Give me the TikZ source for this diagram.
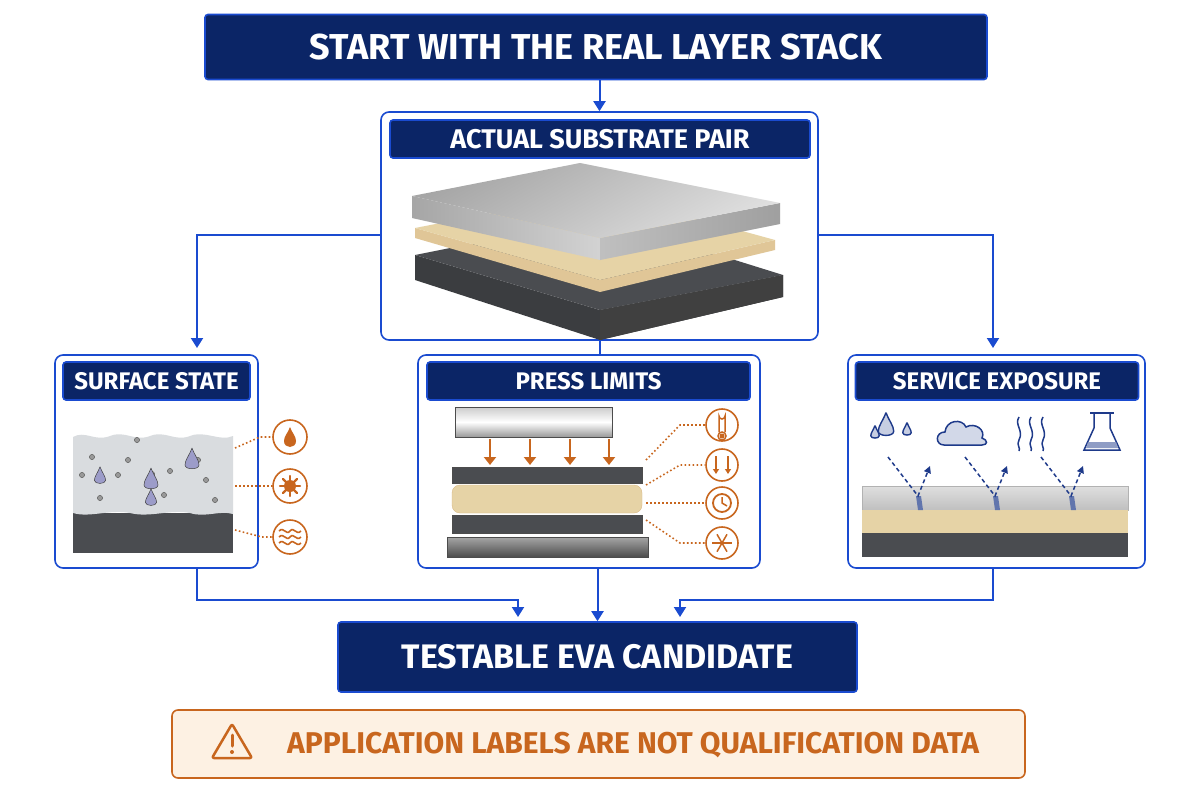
\documentclass[tikz,border=0pt]{standalone}
\usepackage{fontspec}
\setmainfont{Fira Sans}
\usetikzlibrary{arrows.meta}
\definecolor{navy}{HTML}{0B2566}
\definecolor{bblue}{HTML}{1A4BD0}
\definecolor{org}{HTML}{C8661E}
\definecolor{peach}{HTML}{FDF1E3}
\definecolor{tan}{HTML}{E6D3A6}
\definecolor{dgray}{HTML}{4A4C50}
\definecolor{lgray}{HTML}{D9DCDF}
\definecolor{icb}{HTML}{1E3A8A}
\tikzset{
 hdr/.style={fill=navy,draw=bblue,line width=1.6pt,rounded corners=3pt,text=white,font=\bfseries,inner sep=0},
 panel/.style={fill=white,draw=bblue,line width=1.6pt,rounded corners=8pt,inner sep=0},
 conn/.style={draw=bblue,line width=2pt},
 arr/.style={conn,-{Triangle[length=10pt,width=12pt]}},
 dots/.style={draw=org,line width=1.6pt,dash pattern=on 1.6pt off 2.4pt},
 ic/.style={draw=org,line width=1.6pt,fill=white},
 darr/.style={draw=icb,line width=1.5pt,dash pattern=on 4pt off 3pt,-{Triangle[length=7pt,width=7pt]}},
}
\begin{document}
\begin{tikzpicture}[x=1pt,y=-1pt]
\useasboundingbox (0,0) rectangle (1200,800);
% main boxes
\node[hdr,minimum width=782,minimum height=65,font=\bfseries\fontsize{36}{36}\selectfont] (title) at (596,47) {START WITH THE REAL LAYER STACK};
\node[panel,minimum width=437,minimum height=228] (actual) at (599.5,226) {};
\node[hdr,minimum width=420,minimum height=38,font=\bfseries\fontsize{27}{27}\selectfont] (ah) at (600,139) {ACTUAL SUBSTRATE PAIR};
\node[panel,minimum width=203,minimum height=213] (surf) at (156.5,461.5) {};
\node[hdr,minimum width=187,minimum height=38,font=\bfseries\fontsize{24}{24}\selectfont] (sh) at (156.5,381) {SURFACE STATE};
\node[panel,minimum width=342,minimum height=213] (press) at (589,461.5) {};
\node[hdr,minimum width=323,minimum height=38,font=\bfseries\fontsize{24}{24}\selectfont] (ph) at (588.5,381) {PRESS LIMITS};
\node[panel,minimum width=297,minimum height=213] (serv) at (996.5,461.5) {};
\node[hdr,minimum width=283,minimum height=38,font=\bfseries\fontsize{24}{24}\selectfont] (vh) at (997,381) {SERVICE EXPOSURE};
\node[hdr,minimum width=519,minimum height=70,font=\bfseries\fontsize{34}{34}\selectfont] (bot) at (597.5,657) {TESTABLE EVA CANDIDATE};
\node[fill=peach,draw=org,line width=1.6pt,rounded corners=6pt,minimum width=853,minimum height=68,inner sep=0] (warn) at (598.5,744) {};
\node[text=org,font=\bfseries\fontsize{30}{30}\selectfont,anchor=west,inner sep=0] (wt) at (287,745) {APPLICATION LABELS ARE NOT QUALIFICATION DATA};
% warning triangle
\draw[draw=org,line width=2.5pt,line join=round,rounded corners=2pt] (232,724)--(252,758)--(212,758)--cycle;
\draw[org,line width=3pt,line cap=round] (232,735)--(232,746);
\fill[org] (232,752) circle (2pt);
% connectors
\coordinate (sIn) at (197,348);
\coordinate (vIn) at (993,348);
\coordinate (lJ) at (518,617);
\coordinate (rJ) at (680,617);
\draw[arr] (title.south -| actual.north) -- (actual.north);
\draw[arr] (actual.west |- 0,235) -| (sIn);
\draw[arr] (actual.east |- 0,235) -| (vIn);
\draw[conn] (actual.south) -- (actual.south |- press.north);
\draw[arr] (surf.south -| 197,0) |- (518,600) -- (lJ);
\draw[arr] (press.south -| bot.north) -- (bot.north);
\draw[arr] (serv.south -| 993,0) |- (680,600) -- (rJ);
% ===== actual substrate stack
\fill[dgray!80!black] (415,255)--(600,310)--(783,275)--(783,297)--(600,340)--(415,280)--cycle;
\fill[dgray] (415,255)--(600,218)--(783,275)--(600,310)--cycle;
\fill[black!75] (600,310)--(783,275)--(783,297)--(600,340)--cycle;
\fill[tan!85!brown] (415,228)--(600,280)--(775,240)--(775,250)--(600,292)--(415,238)--cycle;
\fill[tan] (415,228)--(600,192)--(775,240)--(600,280)--cycle;
\shade[left color=gray!70,right color=gray!35] (412,196)--(600,238)--(600,260)--(412,218)--cycle;
\shade[left color=gray!50,right color=gray!75] (600,238)--(780,203)--(780,224)--(600,260)--cycle;
\shade[left color=gray!70,right color=gray!25,shading angle=30] (412,196)--(580,163)--(780,203)--(600,238)--cycle;
% ===== surface state
\fill[dgray] (73,513) rectangle (233,553);
\fill[lgray] (73,437) .. controls (85,430) and (95,442) .. (110,436) .. controls (125,430) and (135,442) .. (150,436) .. controls (165,430) and (175,442) .. (190,436) .. controls (205,430) and (220,442) .. (233,436) -- (233,514) .. controls (220,510) and (205,518) .. (190,513) .. controls (170,509) and (150,518) .. (130,513) .. controls (110,509) and (90,518) .. (73,513) -- cycle;
\foreach \x/\y in {92/457,128/460,118/475,152/474,170/471,100/498,206/480,164/495,198/460,137/440,82/475,215/500} \fill[gray!80,draw=gray!60!black,line width=.4pt] (\x,\y) circle (2.6pt);
\foreach \x/\y/\s in {151/482/1,192/462/1,100/478/0.8,151/500/0.8} {
 \begin{scope}[shift={(\x,\y)},scale=\s]
 \fill[gray!70!blue!60,draw=gray!50!black,line width=.5pt] (0,-14) .. controls (3,-6) and (7,-2) .. (7,3) .. controls (7,8) and (-7,8) .. (-7,3) .. controls (-7,-2) and (-3,-6) .. (0,-14);
 \end{scope}}
\node[ic,circle,minimum size=34,inner sep=0] (s1) at (290,437) {};
\node[ic,circle,minimum size=34,inner sep=0] (s2) at (290,486) {};
\node[ic,circle,minimum size=34,inner sep=0] (s3) at (290,537) {};
\draw[dots] (235,448) -- (260,437) -- (s1);
\draw[dots] (235,486) -- (s2);
\draw[dots] (235,530) -- (262,537) -- (s3);
\fill[org] (290,427) .. controls (292,433) and (296,436) .. (296,441) .. controls (296,449) and (284,449) .. (284,441) .. controls (284,436) and (288,433) .. (290,427);
\fill[org] (290,486) circle (6pt);
\foreach \a in {0,45,...,315} \draw[org,line width=2.2pt,line cap=round] (290,486) -- ++(\a:10);
\foreach \dy in {-6,0,6} \draw[org,line width=1.6pt] (279,537+\dy) .. controls (284,532+\dy) and (286,542+\dy) .. (290,537+\dy) .. controls (294,532+\dy) and (296,542+\dy) .. (301,537+\dy);
% ===== press limits
\shade[top color=gray!40,bottom color=gray!80,middle color=white,draw=gray!60!black] (455,407) rectangle (612,437);
\foreach \x in {490,530,570,609} \draw[org,line width=2.5pt,-{Triangle[length=8pt,width=12pt]}] (\x,439) -- (\x,465);
\fill[dgray,draw=black!70] (452,467) rectangle (642,483);
\fill[tan,draw=tan!70!brown,rounded corners=8pt] (452,485) rectangle (642,513);
\fill[dgray,draw=black!70] (452,515) rectangle (642,533);
\shade[top color=gray!70,bottom color=black!70,draw=black!70] (447,537) rectangle (648,557);
\node[ic,circle,minimum size=32,inner sep=0] (p1) at (722,425) {};
\node[ic,circle,minimum size=32,inner sep=0] (p2) at (722,465) {};
\node[ic,circle,minimum size=32,inner sep=0] (p3) at (722,503) {};
\node[ic,circle,minimum size=32,inner sep=0] (p4) at (722,543) {};
\draw[dots] (646,460) -- (680,425) -- (p1);
\draw[dots] (646,485) -- (680,465) -- (p2);
\draw[dots] (646,503) -- (p3);
\draw[dots] (646,520) -- (680,543) -- (p4);
\draw[org,line width=1.5pt] (719,432) -- (719,416) arc (180:0:3) -- (725,432);
\draw[org,line width=1.5pt] (722,436) circle (4pt);
\fill[org] (722,436) circle (2.5pt);
\foreach \x in {716,728} \draw[org,line width=2pt,-{Triangle[length=5pt,width=6pt]}] (\x,456) -- (\x,474);
\draw[org,line width=1.8pt] (722,503) circle (9pt);
\draw[org,line width=1.5pt] (722,497) -- (722,503) -- (727,506);
\foreach \a in {0,60,...,300} \draw[org,line width=1.5pt] (722,543) -- ++(\a:10);
% ===== service exposure
\shade[top color=gray!25,bottom color=gray!50,draw=gray!60] (862,486) rectangle (1128,510);
\fill[tan] (862,510) rectangle (1128,533);
\fill[dgray] (862,533) rectangle (1128,557);
\foreach \x in {918,995,1071} {
 \fill[icb!70] (\x-2,496) -- (\x+3,496) -- (\x+5,510) -- (\x,510) -- cycle;
 \draw[darr] (\x-30,457) -- (\x,496) -- (\x+12,466);
}
\foreach \x/\y/\s in {875/434/0.6,886/428/1.1,907/431/0.6} {
 \begin{scope}[shift={(\x,\y)},scale=\s]
 \fill[icb!25,draw=icb,line width=1.4pt] (0,-14) .. controls (3,-6) and (7,-2) .. (7,3) .. controls (7,8) and (-7,8) .. (-7,3) .. controls (-7,-2) and (-3,-6) .. (0,-14);
 \end{scope}}
\draw[icb,line width=1.5pt,fill=icb!20] (944,445) .. controls (935,445) and (935,432) .. (945,432) .. controls (946,420) and (962,418) .. (966,427) .. controls (975,422) and (986,430) .. (982,438) .. controls (988,440) and (988,445) .. (982,445) -- cycle;
\foreach \x in {1019,1031,1043} \draw[icb,line width=1.5pt] (\x,417) .. controls (\x-5,425) and (\x+5,430) .. (\x,440) .. controls (\x-3,445) and (\x+2,448) .. (\x,451);
\draw[icb,line width=1.5pt,fill=white] (1094,413) -- (1094,428) -- (1084,450) -- (1120,450) -- (1110,428) -- (1110,413);
\draw[icb,line width=1.5pt] (1090,413) -- (1114,413);
\fill[icb!50] (1088,442) -- (1116,442) -- (1118,448) -- (1086,448) -- cycle;
\end{tikzpicture}
\end{document}
